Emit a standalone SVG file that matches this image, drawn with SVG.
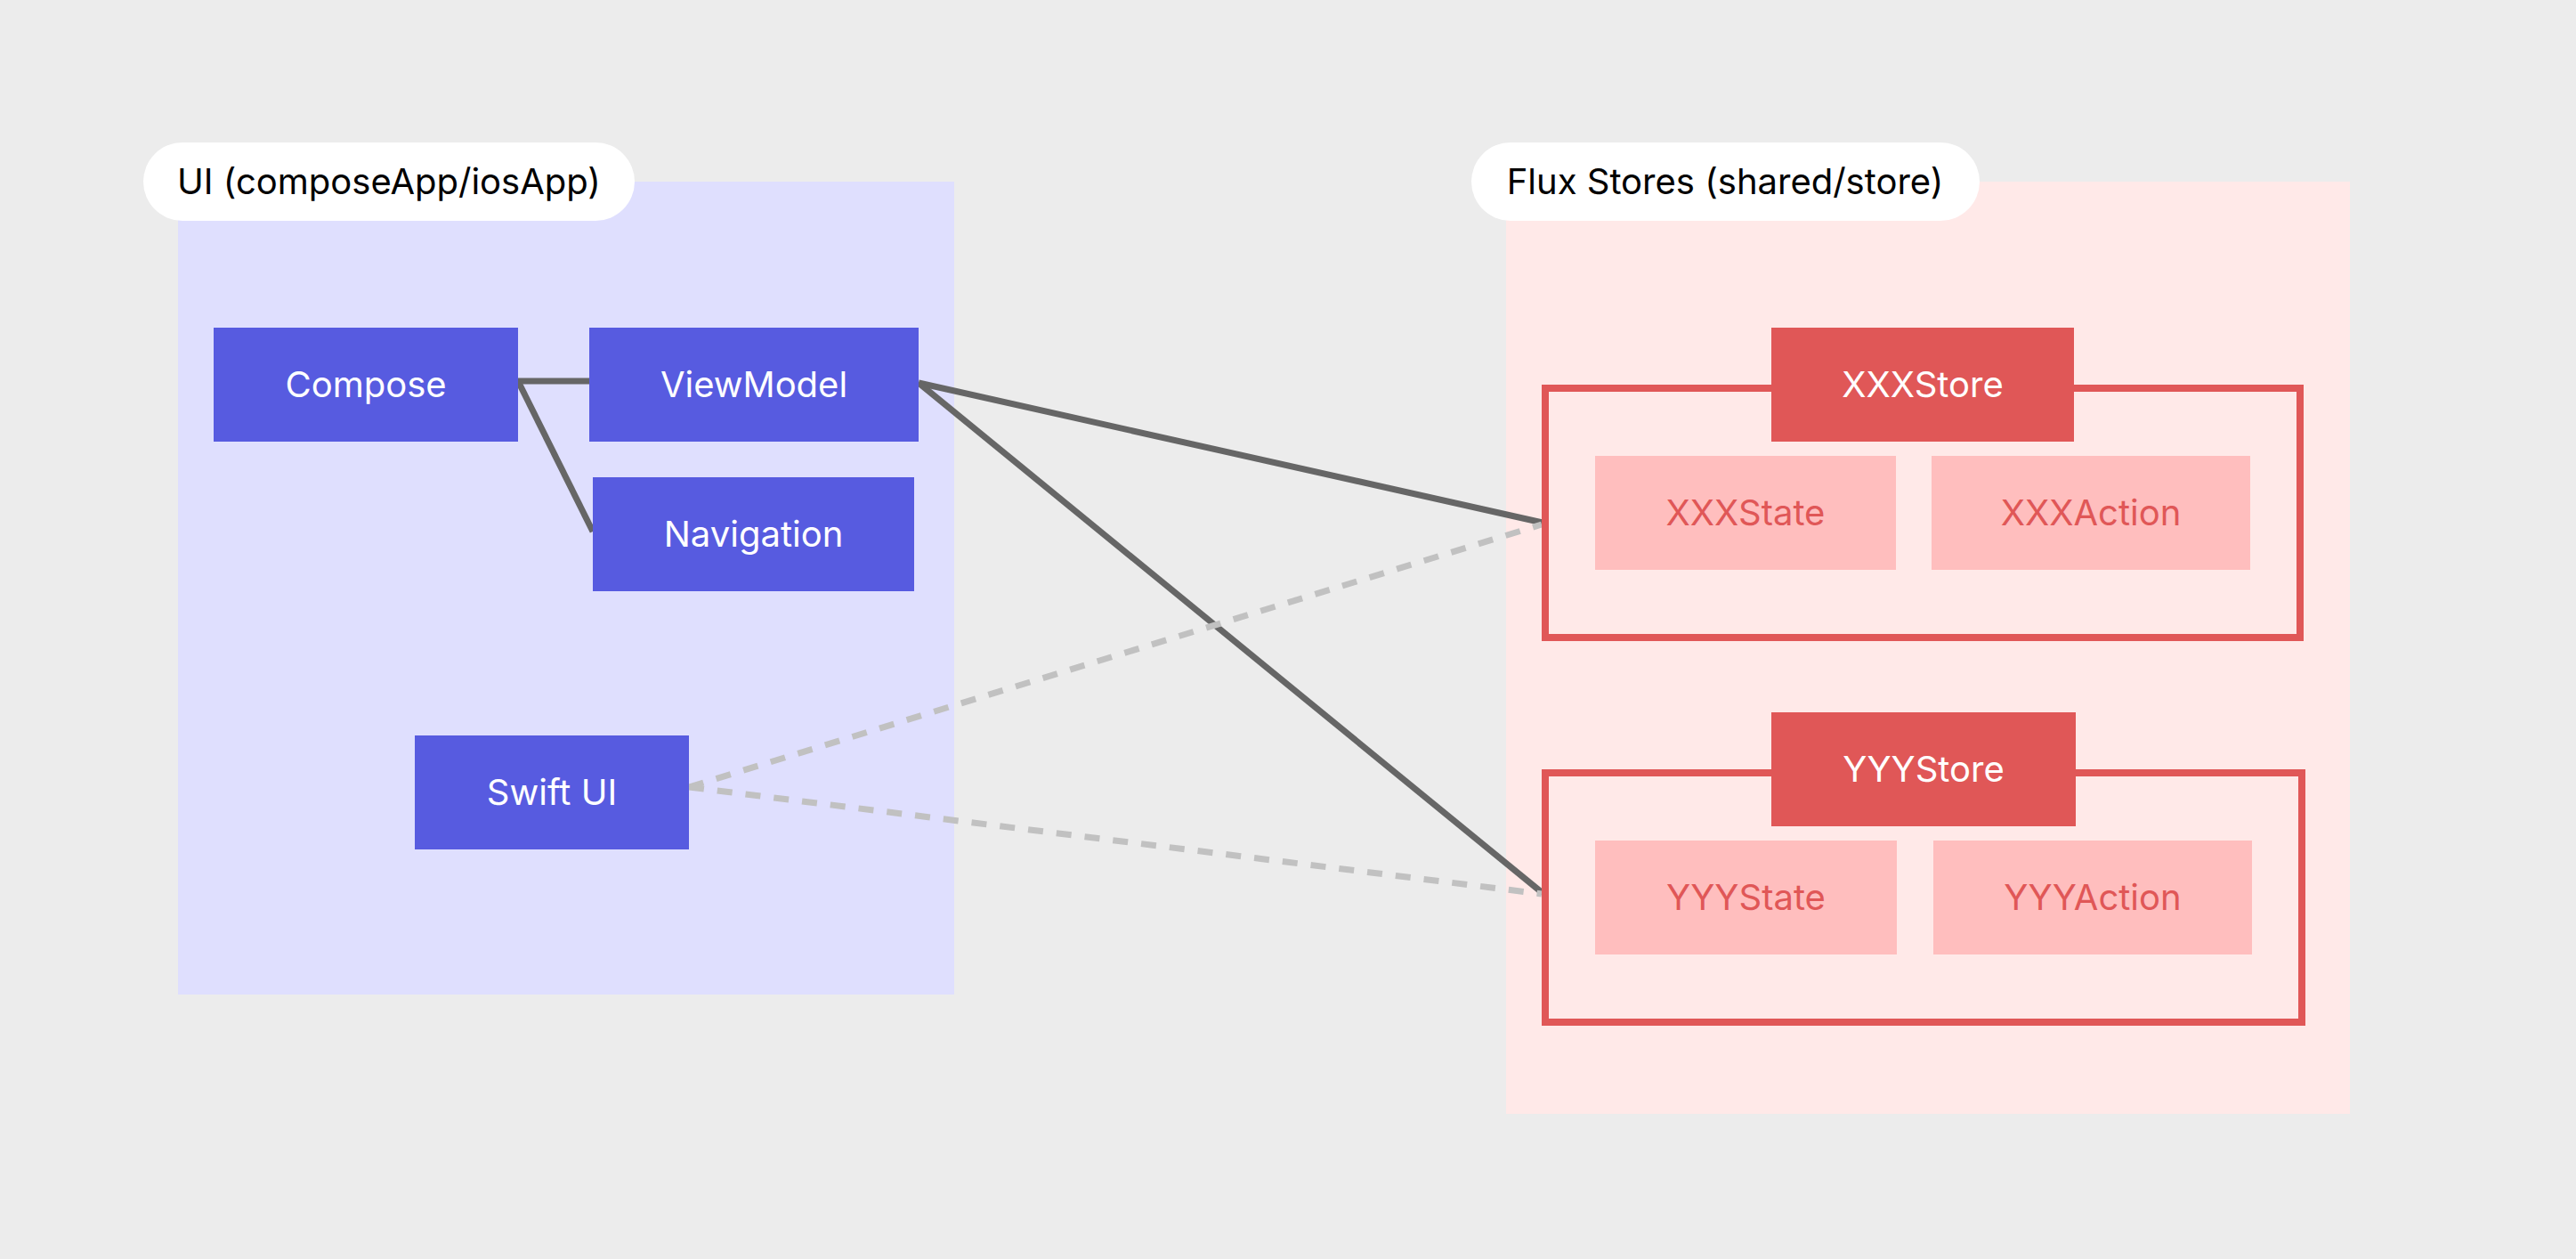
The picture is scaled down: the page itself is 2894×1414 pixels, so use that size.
<svg xmlns="http://www.w3.org/2000/svg" width="2894" height="1414" viewBox="0 0 2894 1414">
<style>
text{font-family:Inter,"Noto Sans","Liberation Sans",sans-serif;font-size:40px;text-anchor:middle}
.pill{fill:#ffffff}
.pilltxt{fill:#000000}
.ui{fill:#575BE0}
.uitxt{fill:#ffffff}
.store{fill:#E05757}
.storetxt{fill:#ffffff}
.frame{fill:none;stroke:#E05757;stroke-width:8}
.part{fill:#FFBEBE}
.parttxt{fill:#E05757}
.solid{stroke:#666666;stroke-width:7;fill:none}
.dash{stroke:#C1C1C1;stroke-width:7;fill:none;stroke-dasharray:17 15}
</style>
<rect x="0" y="0" width="2894" height="1414" fill="#ECECEC"/>
<g id="ui-pane">
<rect x="200" y="204" width="872" height="913" fill="#DFDFFE"/>
<rect class="pill" x="161" y="160" width="552" height="88" rx="44"/>
<text class="pilltxt" x="437" y="218">UI (composeApp/iosApp)</text>
</g>
<g id="store-pane">
<rect x="1692" y="204" width="948" height="1047" fill="#FFE9E8"/>
<rect class="pill" x="1653" y="160" width="571" height="88" rx="44"/>
<text class="pilltxt" x="1938" y="218">Flux Stores (shared/store)</text>
</g>
<g id="connectors">
<line class="solid" x1="582" y1="428" x2="662" y2="428"/>
<line class="solid" x1="582" y1="428" x2="666" y2="597"/>
<line class="solid" x1="1032" y1="430" x2="1733" y2="587"/>
<line class="solid" x1="1032" y1="430" x2="1733" y2="1003"/>
<line class="dash" x1="774" y1="884" x2="1732" y2="589"/>
<line class="dash" x1="774" y1="884" x2="1732" y2="1004"/>
</g>
<g id="compose">
<rect class="ui" x="240" y="368" width="342" height="128"/>
<text class="uitxt" x="411" y="446">Compose</text>
</g>
<g id="viewmodel">
<rect class="ui" x="662" y="368" width="370" height="128"/>
<text class="uitxt" x="847" y="446">ViewModel</text>
</g>
<g id="navigation">
<rect class="ui" x="666" y="536" width="361" height="128"/>
<text class="uitxt" x="846.5" y="614">Navigation</text>
</g>
<g id="swiftui">
<rect class="ui" x="466" y="826" width="308" height="128"/>
<text class="uitxt" x="620" y="904">Swift UI</text>
</g>
<g id="xxxstore">
<rect class="frame" x="1736" y="436" width="848" height="280"/>
<rect class="store" x="1990" y="368" width="340" height="128"/>
<text class="storetxt" x="2160" y="446">XXXStore</text>
</g>
<g id="xxxstate">
<rect class="part" x="1792" y="512" width="338" height="128"/>
<text class="parttxt" x="1961" y="590">XXXState</text>
</g>
<g id="xxxaction">
<rect class="part" x="2170" y="512" width="358" height="128"/>
<text class="parttxt" x="2349" y="590">XXXAction</text>
</g>
<g id="yyystore">
<rect class="frame" x="1736" y="868" width="850" height="280"/>
<rect class="store" x="1990" y="800" width="342" height="128"/>
<text class="storetxt" x="2161" y="878">YYYStore</text>
</g>
<g id="yyystate">
<rect class="part" x="1792" y="944" width="339" height="128"/>
<text class="parttxt" x="1961.5" y="1022">YYYState</text>
</g>
<g id="yyyaction">
<rect class="part" x="2172" y="944" width="358" height="128"/>
<text class="parttxt" x="2351" y="1022">YYYAction</text>
</g>
</svg>
